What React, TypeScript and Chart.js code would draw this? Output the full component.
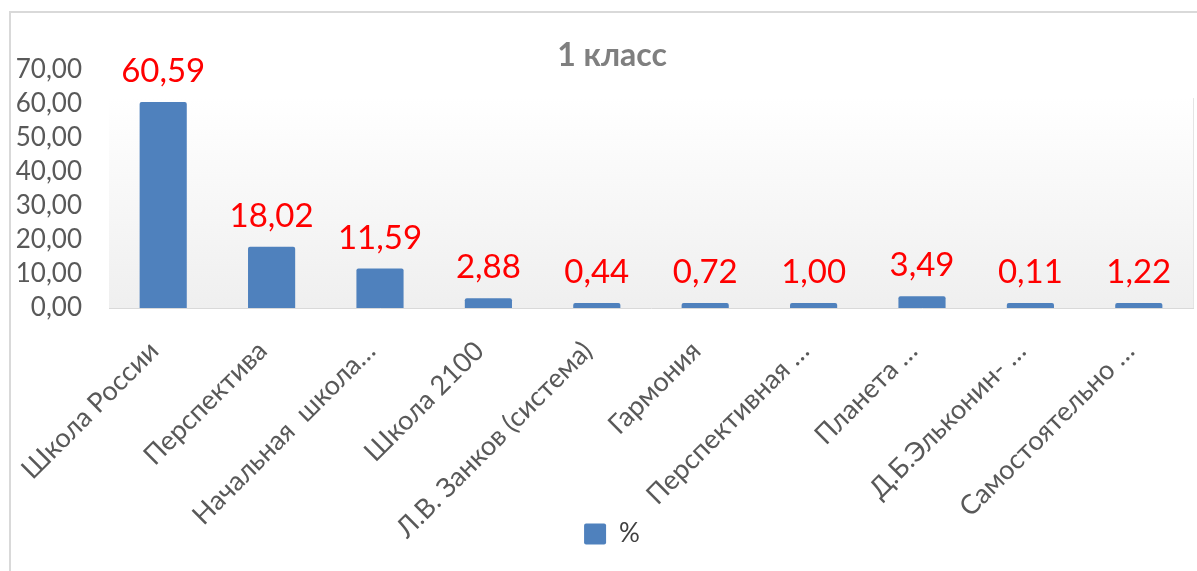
import React, { useEffect, useRef } from "react";
import { Chart, registerables } from "chart.js";

Chart.register(...registerables);

const chartTitle = "1 класс";
const seriesName = "%";
const categories = [
  "Школа России",
  "Перспектива",
  "Начальная  школа…",
  "Школа 2100",
  "Л.В. Занков (система)",
  "Гармония",
  "Перспективная …",
  "Планета …",
  "Д.Б.Эльконин- …",
  "Самостоятельно …",
];
const values = [60.59, 18.02, 11.59, 2.88, 0.44, 0.72, 1.0, 3.49, 0.11, 1.22];
const yMin = 0;
const yMax = 70;
const yStep = 10;

const fmt = (v: number) => v.toFixed(2).replace(".", ",");

export default function App() {
  const ref = useRef<HTMLCanvasElement>(null);

  useEffect(() => {
    if (!ref.current) return;

    const noClipPlugin = {
      id: "noLabelClip",
      afterLayout(chart: any) {
        Object.values(chart.scales).forEach((s: any) => {
          s._computeLabelArea = () => undefined;
        });
      },
    };

    const bgPlugin = {
      id: "plotBg",
      beforeDraw(chart: any) {
        const { ctx, chartArea } = chart;
        const { left, right, top, bottom } = chartArea;
        const gTop = top + 28;
        const g = ctx.createLinearGradient(0, gTop, 0, bottom);
        g.addColorStop(0, "#ffffff");
        g.addColorStop(1, "#efefef");
        ctx.save();
        ctx.fillStyle = g;
        ctx.fillRect(left, gTop, right - left, bottom - gTop);
        ctx.strokeStyle = "#e4e4e4";
        ctx.lineWidth = 1;
        ctx.beginPath();
        ctx.moveTo(right + 0.5, gTop);
        ctx.lineTo(right + 0.5, bottom);
        ctx.stroke();
        ctx.restore();
      },
    };

    const labelPlugin = {
      id: "valueLabels",
      afterDatasetsDraw(chart: any) {
        const { ctx } = chart;
        const meta = chart.getDatasetMeta(0);
        const data = chart.data.datasets[0].data as number[];
        ctx.save();
        ctx.font = "33px Lato";
        ctx.fillStyle = "#ff0000";
        ctx.textAlign = "center";
        ctx.textBaseline = "alphabetic";
        meta.data.forEach((el: any, i: number) => {
          ctx.fillText(fmt(data[i]), el.x, el.y - 20);
        });
        ctx.restore();
      },
    };

    const chart = new Chart(ref.current, {
      type: "bar",
      data: {
        labels: categories,
        datasets: [
          {
            label: seriesName,
            data: values,
            backgroundColor: "#4f81bd",
            borderWidth: 0,
            borderRadius: 2,
            borderSkipped: "start",
            categoryPercentage: 1,
            barPercentage: 0.435,
            minBarLength: 5,
          },
        ],
      },
      options: {
        responsive: false,
        animation: false,
        layout: { padding: { left: 20, right: 28, top: 0, bottom: 56 } },
        plugins: {
          title: {
            display: true,
            text: chartTitle,
            color: "#7f7f7f",
            font: { family: "Lato", size: 32, weight: "bold", lineHeight: 0.906 },
            padding: { top: 28, bottom: 0 },
          },
          legend: {
            display: true,
            position: "bottom",
            labels: {
              boxWidth: 22,
              boxHeight: 21,
              useBorderRadius: true,
              borderRadius: 2,
              color: "#404040",
              font: { family: "Lato", size: 26 },
            },
          },
          tooltip: { enabled: false },
        },
        scales: {
          x: {
            grid: { display: false, drawTicks: false },
            border: { display: true, color: "#d9d9d9", width: 1 },
            ticks: {
              autoSkip: false,
              minRotation: 45,
              maxRotation: 45,
              padding: 27,
              labelOffset: -9,
              color: "#595959",
              font: { family: "Lato", size: 27 },
            },
            afterFit(scale: any) {
              scale.height = 203;
              scale.paddingLeft = 0;
              scale.paddingRight = 0;
            },
          },
          y: {
            min: yMin,
            max: yMax,
            grid: { display: false, drawTicks: false },
            border: { display: false },
            ticks: {
              autoSkip: false,
              stepSize: yStep,
              padding: 27,
              color: "#595959",
              font: { family: "Lato", size: 26 },
              callback: (v: any) => fmt(Number(v)),
            },
            afterFit(scale: any) {
              scale.width = 78;
            },
          },
        },
      },
      plugins: [noClipPlugin, bgPlugin, labelPlugin],
    });

    return () => chart.destroy();
  }, []);

  return (
    <div
      style={{
        position: "absolute",
        left: 0,
        top: 0,
        width: 1197,
        height: 571,
        overflow: "hidden",
        background: "#ffffff",
      }}
    >
      <div
        style={{
          position: "absolute",
          left: 9,
          top: 11,
          borderLeft: "2px solid #d9d9d9",
          borderTop: "2px solid #d9d9d9",
          width: 1210,
          height: 600,
          background: "#ffffff",
        }}
      >
        <canvas ref={ref} width={1210} height={600} style={{ display: "block" }} />
      </div>
    </div>
  );
}
